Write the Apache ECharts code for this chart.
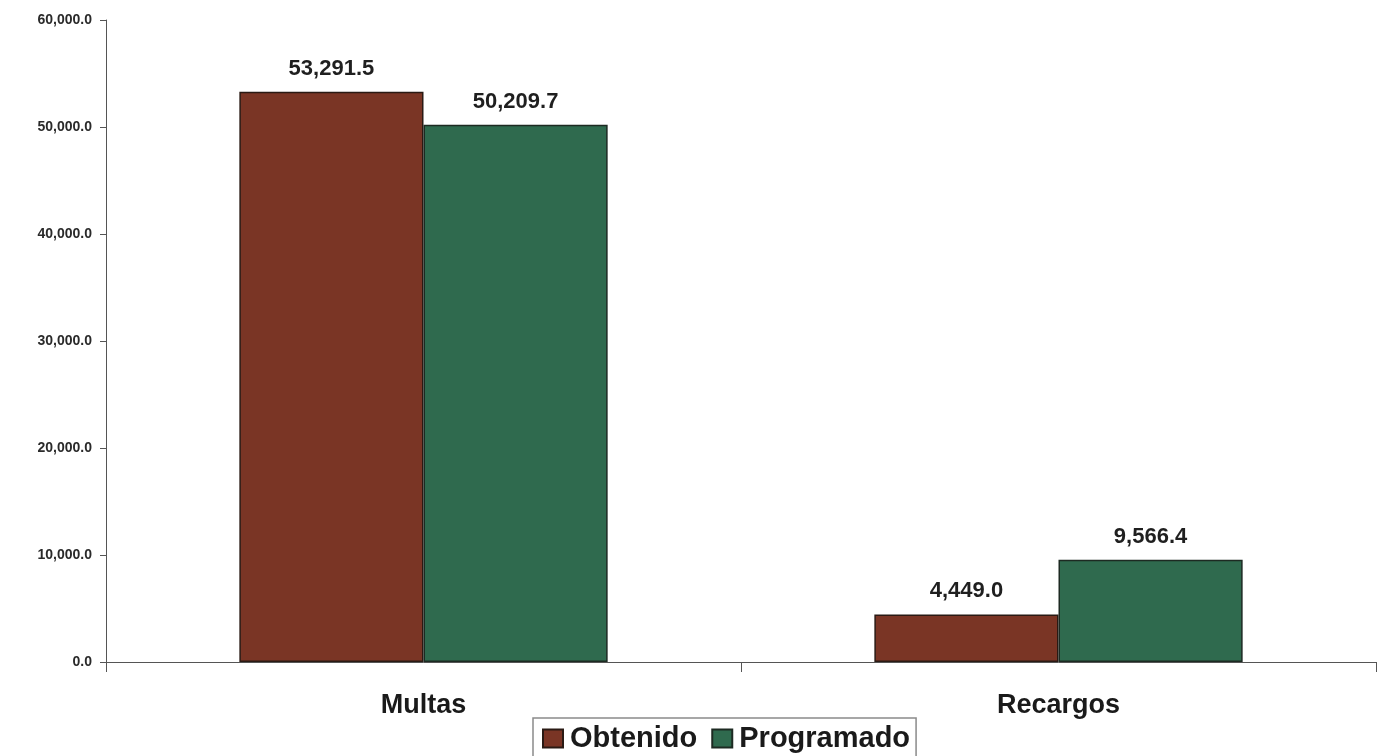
<!DOCTYPE html>
<html>
<head>
<meta charset="utf-8">
<script src="https://cdn.jsdelivr.net/npm/echarts@6/dist/echarts.min.js"></script>
<style>
html,body{margin:0;padding:0;background:#fff;}
#chart{width:1387px;height:756px;}
</style>
</head>
<body>
<div id="chart"></div>
<script>
const categories = ['Multas', 'Recargos'];
const obtenido = [53291.5, 4449.0];
const programado = [50209.7, 9566.4];
const seriesNames = ['Obtenido', 'Programado'];

function fmt(v) {
  return v.toLocaleString('en-US', {minimumFractionDigits: 1, maximumFractionDigits: 1});
}

const FONT = 'Liberation Sans, Arial, sans-serif';
const chart = echarts.init(document.getElementById('chart'));
const labelStyle = {
  show: true, position: 'top', distance: 12,
  fontFamily: FONT, fontWeight: 'bold', fontSize: 22, color: '#1f1f1f',
  formatter: p => fmt(p.value)
};
chart.setOption({
  animation: false,
  backgroundColor: '#fff',
  grid: {left: 106, right: 11, top: 20, bottom: 94, containLabel: false},
  legend: {
    data: seriesNames,
    left: 533, top: 718,
    itemWidth: 20, itemHeight: 18, itemGap: 14,
    padding: [6, 6, 6, 9],
    borderColor: '#8a8a8a', borderWidth: 1.5,
    icon: 'rect',
    textStyle: {fontFamily: FONT, fontWeight: 'bold', fontSize: 29, color: '#1a1a1a', padding: [0, 0, 0, 2]}
  },
  xAxis: {
    type: 'category', data: categories,
    axisLine: {lineStyle: {color: '#555', width: 1}},
    axisTick: {show: true, length: 10, lineStyle: {color: '#555'}},
    axisLabel: {margin: 30, fontFamily: FONT, fontWeight: 'bold', fontSize: 27, color: '#1a1a1a'}
  },
  yAxis: {
    type: 'value', min: 0, max: 60000, interval: 10000,
    axisLine: {show: true, lineStyle: {color: '#555', width: 1}},
    axisTick: {show: true, length: 6, lineStyle: {color: '#555'}},
    splitLine: {show: false},
    axisLabel: {margin: 14, fontFamily: FONT, fontWeight: 'bold', fontSize: 14, color: '#2a2a2a', formatter: v => fmt(v)}
  },
  series: [
    {
      name: seriesNames[0], type: 'bar', data: obtenido,
      barGap: '0%', barCategoryGap: '42%',
      itemStyle: {color: '#7a3525', borderColor: '#2a1a14', borderWidth: 1.5},
      label: labelStyle
    },
    {
      name: seriesNames[1], type: 'bar', data: programado,
      itemStyle: {color: '#2f6a4e', borderColor: '#1d2a22', borderWidth: 1.5},
      label: labelStyle
    }
  ]
});
</script>
</body>
</html>
